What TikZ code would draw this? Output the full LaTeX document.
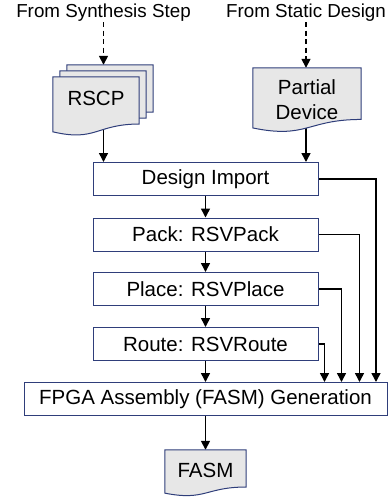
\documentclass[tikz,border=0pt]{standalone}
\usepackage{fontspec}
\setmainfont{Liberation Sans}
\usetikzlibrary{arrows.meta,calc}
\definecolor{edgeblue}{HTML}{2F3E7A}
\definecolor{docgray}{HTML}{E7E7E7}
\newcommand\boxfont{\fontsize{20.5}{25}\selectfont}
\newcommand\tagfont{\fontsize{18.8}{22}\selectfont}
\pgfdeclarelayer{links}
\pgfdeclarelayer{docs}
\pgfsetlayers{links,docs,main}
\tikzset{
  flow/.style={line width=1.5pt, -{Triangle[length=9pt,width=9pt]}},
  feed/.style={flow, dash pattern=on 5pt off 3.5pt},
  stage/.style={draw=edgeblue, line width=1pt, fill=white, minimum height=33pt,
                inner sep=0pt, font=\boxfont},
  docnode/.style={inner sep=0pt, font=\boxfont, align=center},
  docline/.style={draw=edgeblue, line width=1pt, fill=docgray},
  tag/.style={inner sep=1pt, font=\tagfont, anchor=base},
}
% document symbol with a wavy lower edge, drawn around a named node
\newcommand\wavydoc[1]{%
  \path[docline] let \p1=(#1.north west), \p2=(#1.south east) in
    (\x1,\y1) -- (\x2,\y1) -- (\x2,{\y1+0.802*((\y2)-(\y1))})
    .. controls ({0.5*(\x1+\x2)},{\y1+0.802*((\y2)-(\y1))})
            and ({0.5*(\x1+\x2)},{\y1+1.1075*((\y2)-(\y1))})
    .. (\x1,{\y1+0.934*((\y2)-(\y1))}) -- cycle;}
\begin{document}
\begin{tikzpicture}[x=1pt,y=-1pt]
\useasboundingbox (0,0) rectangle (391,498);

% sources
\node[tag] (synth) at (103.5,17) {From Synthesis Step};
\node[tag] (static) at (306,17) {From Static Design};

% input documents
\node[docnode, minimum width=86pt, minimum height=58.5pt] (rscp3) at (110,94.25) {};
\node[docnode, minimum width=86pt, minimum height=58.5pt] (rscp2) at (103,100.25) {};
\node[docnode, minimum width=86pt, minimum height=58.5pt, text height=14.5pt, text depth=16pt]
  (rscp) at (96,106.25) {RSCP};
\node[docnode, minimum width=108pt, minimum height=64pt] (pd) at (307,100) {Partial\\Device};

% flow stages
\node[stage, minimum width=225pt] (import) at (205.5,179) {Design Import};
\node[stage, minimum width=225pt] (pack)   at (205.5,234.5) {Pack: RSVPack};
\node[stage, minimum width=225pt] (place)  at (205.5,289) {Place: RSVPlace};
\node[stage, minimum width=225pt] (route)  at (205.5,344) {Route: RSVRoute};
\node[stage, minimum width=363pt] (fpga)   at (205.5,399) {FPGA Assembly (FASM) Generation};

% output document
\node[docnode, minimum width=81pt, minimum height=46pt, text height=14.5pt, text depth=6pt]
  (fasm) at (205.5,473) {FASM};

% entry points on the top edge of the assembly stage
\path (fpga.north) ++(170.5,0) coordinate (tap1) ++(-16.5,0) coordinate (tap2)
      ++(-18,0) coordinate (tap3) ++(-17,0) coordinate (tap4);

\begin{pgfonlayer}{docs}
  \wavydoc{rscp3}
  \wavydoc{rscp2}
  \wavydoc{rscp}
  \wavydoc{pd}
  \wavydoc{fasm}
\end{pgfonlayer}

\begin{pgfonlayer}{links}
  \draw[feed] (synth.south) -- (synth.south |- rscp3.north);
  \draw[feed] (static.south) -- (static.south |- pd.north);
  \draw[flow] (synth.south |- rscp.center) -- (synth.south |- import.north);
  \draw[flow] (static.south |- pd.center) -- (static.south |- import.north);
  \draw[flow] (import) -- (pack);
  \draw[flow] (pack) -- (place);
  \draw[flow] (place) -- (route);
  \draw[flow] (route) -- (fpga);
  \draw[flow] (fpga.south) -- (fasm.north);
  \draw[flow] (import.east) -| (tap1);
  \draw[flow] (pack.east) -| (tap2);
  \draw[flow] (place.east) -| (tap3);
  \draw[flow] (route.east) -| (tap4);
\end{pgfonlayer}
\end{tikzpicture}
\end{document}
